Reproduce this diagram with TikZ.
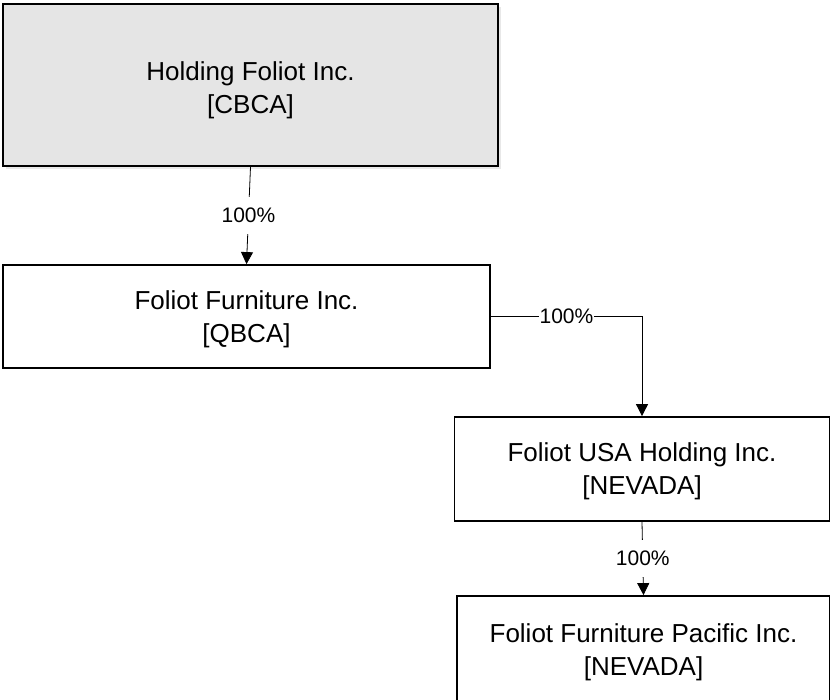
\documentclass[tikz,border=0pt]{standalone}
\usepackage{fontspec}
\setmainfont{Liberation Sans}
\usetikzlibrary{arrows.meta,shadows}
\newcommand\liftline[1]{\rule{0pt}{#1}}

\begin{document}
\begin{tikzpicture}[x=1pt, y=-1pt,
	company/.style={draw, line width=1.8pt, align=center, inner sep=0pt,
		font=\fontsize{26}{33}\selectfont},
	share/.style={fill=white, inner xsep=1pt, inner ysep=11pt,
		font=\fontsize{21}{24}\selectfont},
	owns/.style={draw, line width=0.8pt, -{Triangle[length=12pt, width=12pt]}}]
	\useasboundingbox (0,0) rectangle (830,699);
	\node[company, fill=gray!20, minimum width=495pt, minimum height=162pt,
		drop shadow={shadow xshift=3pt, shadow yshift=-3pt, fill=gray!35}]
		(hold) at (250.5,85) {\liftline{29pt}Holding Foliot Inc.\\{}[CBCA]};
	\node[company, minimum width=487pt, minimum height=103pt]
		(furn) at (246.5,316.5) {\liftline{25pt}Foliot Furniture Inc.\\{}[QBCA]};
	\node[company, minimum width=375pt, minimum height=104pt]
		(usa) at (642,469) {\liftline{24pt}Foliot USA Holding Inc.\\{}[NEVADA]};
	\node[company, minimum width=373pt, minimum height=106pt]
		(pac) at (643.5,649) {\liftline{25pt}Foliot Furniture Pacific Inc.\\{}[NEVADA]};
	\path
	(hold.south) edge[owns] node[share] {100\%} (furn.north)
	(usa.south) edge[owns] node[share] {100\%} (pac.north);
	\draw[owns] (furn.east) -| node[share, pos=0.25] {100\%} (usa.north);
\end{tikzpicture}
\end{document}
